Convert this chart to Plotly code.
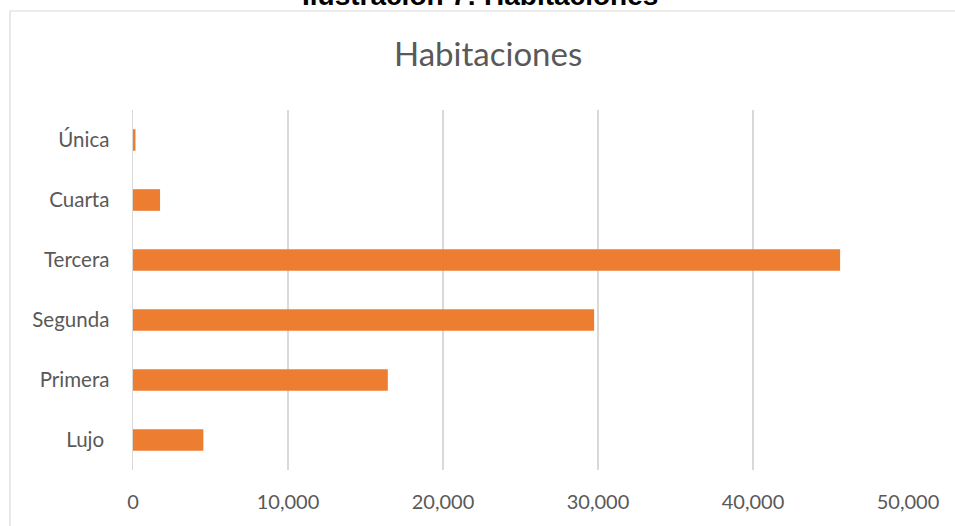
import plotly.graph_objects as go

categories = ["Lujo\u00a0", "Primera", "Segunda", "Tercera", "Cuarta", "Única"]
values = [4540, 16440, 29750, 45620, 1745, 160]
x_ticks = [0, 10000, 20000, 30000, 40000, 50000]
x_tick_labels = ["0", "10,000", "20,000", "30,000", "40,000", "50,000"]

W, H = 955, 526
L, R, T, B = 133, 47, 110, 56
pw, ph = W - L - R, H - T - B

def px_x(p):
    return (p - L) / pw

def px_y(p):
    return (H - B - p) / ph

FONT = "Lato"
GRAY = "#595959"
GRID = "#d9d9d9"

fig = go.Figure(go.Bar(
    y=categories, x=values, orientation="h",
    marker=dict(color="#ED7D31", line=dict(width=0)),
))

fig.update_layout(
    width=W, height=H,
    margin=dict(l=L, r=R, t=T, b=B),
    paper_bgcolor="white", plot_bgcolor="white",
    bargap=0.64,
    showlegend=False,
    font=dict(family=FONT, color=GRAY),
    xaxis=dict(
        range=[0, 50000], tickvals=x_ticks, ticktext=x_tick_labels,
        showgrid=True, gridcolor=GRID, gridwidth=1.5,
        zeroline=False, showline=False,
        tickfont=dict(size=20, color=GRAY, family=FONT),
        ticks="", ticklabelstandoff=18, fixedrange=True,
    ),
    yaxis=dict(
        categoryorder="array", categoryarray=categories,
        showgrid=False, zeroline=False,
        showline=True, linecolor=GRID, linewidth=1.5,
        tickfont=dict(size=20.5, color=GRAY, family=FONT),
        ticks="", ticklabelstandoff=18, fixedrange=True,
    ),
    shapes=[dict(
        type="rect", xref="paper", yref="paper",
        x0=px_x(10), x1=px_x(1000), y0=px_y(11), y1=px_y(700),
        line=dict(color=GRID, width=1.2), fillcolor="rgba(0,0,0,0)", layer="below",
    )],
    annotations=[
        dict(text="Habitaciones", xref="paper", yref="paper",
             x=px_x(488), y=px_y(53), xanchor="center", yanchor="middle",
             showarrow=False, font=dict(size=33, color=GRAY, family=FONT)),
        dict(text="<b>Ilustración 7: Habitaciones</b>", xref="paper", yref="paper",
             x=px_x(480), y=px_y(-5), xanchor="center", yanchor="middle",
             showarrow=False, font=dict(size=28, color="#000000", family="Liberation Sans")),
    ],
)

fig.write_html(
    "out.html",
    config={"displayModeBar": False, "staticPlot": True},
    post_script="document.body.style.margin='0';document.body.style.overflow='hidden';",
)
